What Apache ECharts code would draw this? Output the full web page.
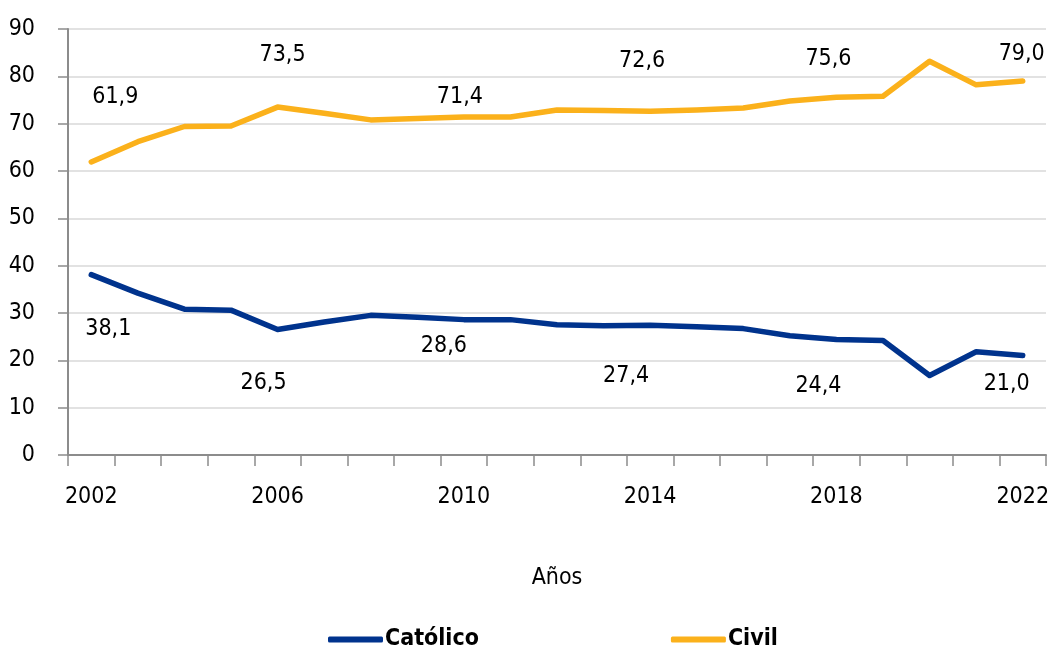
<!DOCTYPE html>
<html>
<head>
<meta charset="utf-8">
<script src="https://cdn.jsdelivr.net/npm/echarts@6/dist/echarts.min.js"></script>
<style>
html,body{margin:0;padding:0;background:#fff;}
#chart{width:1052px;height:649px;}
</style>
</head>
<body>
<div id="chart"></div>
<script>
const years = ['2002','2003','2004','2005','2006','2007','2008','2009','2010','2011','2012','2013','2014','2015','2016','2017','2018','2019','2020','2021','2022'];
const catolico = [38.1,34.2,30.8,30.6,26.5,28.1,29.5,29.1,28.6,28.6,27.5,27.3,27.4,27.1,26.7,25.2,24.4,24.2,16.8,21.8,21.0];
const civil = [61.9,66.2,69.4,69.5,73.5,72.2,70.8,71.1,71.4,71.4,72.9,72.8,72.6,72.9,73.3,74.8,75.6,75.8,83.2,78.2,79.0];
const yTicks = [0,10,20,30,40,50,60,70,80,90];

const FONT = '"Liberation Sans Narrow","DejaVu Sans Condensed",sans-serif';
const FS = 23;
const labelOffsetsCivil = {0:[24,-65],4:[5,-52],8:[-4,-20],12:[-8,-50],16:[-8,-38],20:[-1,-27]};
const labelOffsetsCat = {0:[17,54],4:[-14,53],8:[-20,26],12:[-24,51],16:[-18,47],20:[-16,28]};

function fmt(v){ return v.toFixed(1).replace('.', ','); }
function build(values, offsets){
  return values.map((v,i)=>{
    const o = offsets[i];
    if(!o) return {value:v};
    return {value:v, label:{show:true, position:'inside', offset:o, formatter:()=>fmt(v),
      fontFamily:FONT, fontSize:FS, color:'#000'}};
  });
}

const chart = echarts.init(document.getElementById('chart'), null, {renderer:'canvas'});
chart.setOption({
  animation:false,
  backgroundColor:'#fff',
  grid:{left:68, right:4, top:29, bottom:194},
  legend:{
    left:323, top:623,
    itemWidth:55, itemHeight:6, itemGap:192, icon:'roundRect',
    textStyle:{fontFamily:FONT, fontSize:FS, fontWeight:'bold', color:'#000', padding:[0,0,0,-3]},
    data:['Católico','Civil']
  },
  xAxis:{
    type:'category', data:years, boundaryGap:true,
    name:'Años', nameLocation:'middle', nameGap:112,
    nameTextStyle:{fontFamily:FONT, fontSize:FS, color:'#000'},
    axisLine:{show:true, lineStyle:{color:'#8c8c8c', width:2}},
    axisTick:{show:true, interval:0, length:11, lineStyle:{color:'#8c8c8c', width:1.5}},
    axisLabel:{interval:3, margin:31, fontFamily:FONT, fontSize:FS, color:'#000'},
    splitLine:{show:false}
  },
  yAxis:{
    type:'value', min:yTicks[0], max:yTicks[yTicks.length-1], interval:10,
    axisLine:{show:true, lineStyle:{color:'#8c8c8c', width:2}},
    axisTick:{show:true, length:10, lineStyle:{color:'#8c8c8c', width:1.5}},
    axisLabel:{margin:33, fontFamily:FONT, fontSize:FS, color:'#000'},
    splitLine:{show:true, lineStyle:{color:'#d9d9d9', width:1.5}}
  },
  series:[
    {name:'Católico', type:'line', data:build(catolico, labelOffsetsCat),
     symbol:'circle', symbolSize:0, showSymbol:true,
     lineStyle:{color:'#00338d', width:5.5, cap:'round', join:'round'},
     itemStyle:{color:'#00338d'}},
    {name:'Civil', type:'line', data:build(civil, labelOffsetsCivil),
     symbol:'circle', symbolSize:0, showSymbol:true,
     lineStyle:{color:'#fbb11b', width:5.5, cap:'round', join:'round'},
     itemStyle:{color:'#fbb11b'}}
  ]
});
</script>
</body>
</html>
